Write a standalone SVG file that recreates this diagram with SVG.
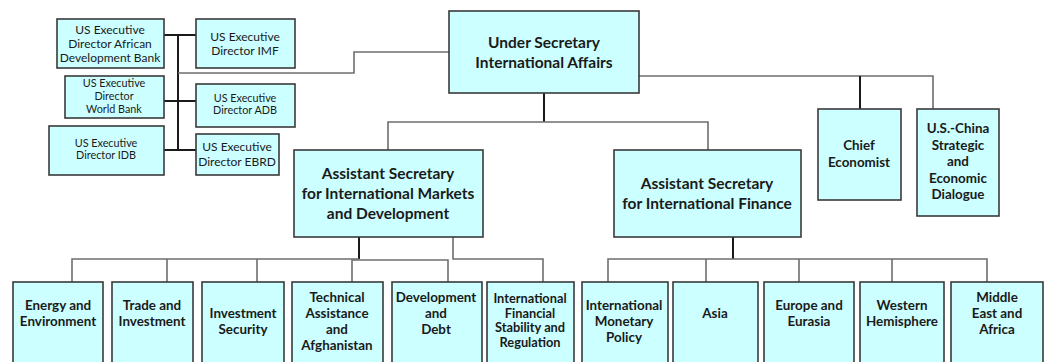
<svg xmlns="http://www.w3.org/2000/svg" width="1048" height="362" viewBox="0 0 1048 362">
  <style>
    .box { fill: #ccffff; stroke: #3a3a3a; stroke-width: 1.6; }
    .dark { fill: none; stroke: #1a1a1a; stroke-width: 2; }
    .grey { fill: none; stroke: #6e6e6e; stroke-width: 1.6; }
    text { font-family: Lato, "Open Sans", "Liberation Sans", sans-serif; fill: #1a1a1a; text-anchor: middle; }
    .b { font-weight: bold; }
    .big { font-size: 15.5px; }
    .mid { font-size: 13.4px; }
    .sm { font-size: 12px; }
    .fs { font-size: 12.8px; }
    .xs { font-size: 10.8px; }
  </style>
  <rect width="1048" height="362" fill="#ffffff"/>

  <!-- connectors -->
  <g id="connectors">
    <!-- executive director cluster -->
    <path class="dark" d="M178,35 V150"/>
    <path class="dark" d="M164,35 H196 M164,101 H196 M164,150 H196"/>
    <path class="grey" d="M178,73 H354 V52 H449"/>
    <!-- under secretary to right-hand offices -->
    <path class="grey" d="M639,76 H933 V109"/>
    <path class="dark" d="M860,76 V109"/>
    <!-- under secretary to assistant secretaries -->
    <path class="dark" d="M544,93 V122"/>
    <path class="grey" d="M388,150 V122 H708 V150"/>
    <!-- markets and development offices -->
    <path class="dark" d="M359,237 V259"/>
    <path class="grey" d="M72,282 V259 H359"/>
    <path class="grey" d="M167,259 V282 M257,259 V282"/>
    <path class="grey" d="M352,282 V260 H448 V282"/>
    <path class="grey" d="M453,237 V259 H543 V282"/>
    <!-- international finance offices -->
    <path class="dark" d="M733,237 V259"/>
    <path class="grey" d="M608,282 V259 H987 V282"/>
    <path class="grey" d="M706,259 V282 M799,259 V282 M892,259 V282"/>
  </g>

  <!-- executive directors -->
  <g id="ed-afdb">
    <rect class="box" x="57" y="19" width="107" height="49"/>
    <text class="sm" x="110" y="34">US Executive</text>
    <text class="sm" x="110" y="48">Director African</text>
    <text class="sm" x="110" y="62">Development Bank</text>
  </g>
  <g id="ed-imf">
    <rect class="box" x="196" y="19" width="99" height="49"/>
    <text class="sm" x="245" y="41">US Executive</text>
    <text class="sm" x="245" y="55">Director IMF</text>
  </g>
  <g id="ed-worldbank">
    <rect class="box" x="65" y="76" width="99" height="42"/>
    <text class="xs" x="114" y="87">US Executive</text>
    <text class="xs" x="114" y="100">Director</text>
    <text class="xs" x="114" y="113">World Bank</text>
  </g>
  <g id="ed-adb">
    <rect class="box" x="196" y="84" width="99" height="43"/>
    <text class="xs" x="245" y="102">US Executive</text>
    <text class="xs" x="245" y="114">Director ADB</text>
  </g>
  <g id="ed-idb">
    <rect class="box" x="49" y="126" width="115" height="49"/>
    <text class="xs" x="106" y="147">US Executive</text>
    <text class="xs" x="106" y="159">Director IDB</text>
  </g>
  <g id="ed-ebrd">
    <rect class="box" x="196" y="134" width="83" height="41"/>
    <text class="sm" x="237" y="151">US Executive</text>
    <text class="sm" x="237" y="166">Director EBRD</text>
  </g>

  <!-- leadership -->
  <g id="under-secretary">
    <rect class="box" x="449" y="11" width="190" height="82"/>
    <text class="b big" x="544" y="48">Under Secretary</text>
    <text class="b big" x="544" y="68">International Affairs</text>
  </g>
  <g id="chief-economist">
    <rect class="box" x="818" y="109" width="83" height="91"/>
    <text class="b mid" x="859" y="150">Chief</text>
    <text class="b mid" x="859" y="167">Economist</text>
  </g>
  <g id="us-china">
    <rect class="box" x="917" y="109" width="82" height="107"/>
    <text class="b mid" x="958" y="133">U.S.-China</text>
    <text class="b mid" x="958" y="150">Strategic</text>
    <text class="b mid" x="958" y="166">and</text>
    <text class="b mid" x="958" y="183">Economic</text>
    <text class="b mid" x="958" y="199">Dialogue</text>
  </g>
  <g id="as-markets">
    <rect class="box" x="294" y="150" width="189" height="87"/>
    <text class="b big" x="388" y="179">Assistant Secretary</text>
    <text class="b big" x="388" y="199">for International Markets</text>
    <text class="b big" x="388" y="219">and Development</text>
  </g>
  <g id="as-finance">
    <rect class="box" x="614" y="150" width="187" height="87"/>
    <text class="b big" x="707" y="189">Assistant Secretary</text>
    <text class="b big" x="707" y="209">for International Finance</text>
  </g>

  <!-- markets and development offices -->
  <g id="energy">
    <rect class="box" x="13" y="282" width="90" height="90"/>
    <text class="b mid" x="58" y="310">Energy and</text>
    <text class="b mid" x="58" y="326">Environment</text>
  </g>
  <g id="trade">
    <rect class="box" x="112" y="282" width="81" height="90"/>
    <text class="b mid" x="152" y="310">Trade and</text>
    <text class="b mid" x="152" y="326">Investment</text>
  </g>
  <g id="investment-security">
    <rect class="box" x="202" y="282" width="82" height="90"/>
    <text class="b mid" x="243" y="318">Investment</text>
    <text class="b mid" x="243" y="334">Security</text>
  </g>
  <g id="technical-assistance">
    <rect class="box" x="292" y="282" width="91" height="90"/>
    <text class="b mid" x="337" y="302">Technical</text>
    <text class="b mid" x="337" y="318">Assistance</text>
    <text class="b mid" x="337" y="334">and</text>
    <text class="b mid" x="337" y="350">Afghanistan</text>
  </g>
  <g id="development-debt">
    <rect class="box" x="392" y="282" width="90" height="90"/>
    <text class="b mid" x="436" y="302">Development</text>
    <text class="b mid" x="436" y="318">and</text>
    <text class="b mid" x="436" y="334">Debt</text>
  </g>
  <g id="financial-stability">
    <rect class="box" x="487" y="282" width="87" height="90"/>
    <text class="b fs" x="530" y="303">International</text>
    <text class="b fs" x="530" y="318">Financial</text>
    <text class="b fs" x="530" y="332">Stability and</text>
    <text class="b fs" x="530" y="347">Regulation</text>
  </g>

  <!-- international finance offices -->
  <g id="monetary-policy">
    <rect class="box" x="582" y="282" width="86" height="90"/>
    <text class="b mid" x="624" y="310">International</text>
    <text class="b mid" x="624" y="326">Monetary</text>
    <text class="b mid" x="624" y="342">Policy</text>
  </g>
  <g id="asia">
    <rect class="box" x="673" y="282" width="85" height="90"/>
    <text class="b mid" x="715" y="318">Asia</text>
  </g>
  <g id="europe-eurasia">
    <rect class="box" x="764" y="282" width="90" height="90"/>
    <text class="b mid" x="809" y="310">Europe and</text>
    <text class="b mid" x="809" y="326">Eurasia</text>
  </g>
  <g id="western-hemisphere">
    <rect class="box" x="860" y="282" width="84" height="90"/>
    <text class="b mid" x="902" y="310">Western</text>
    <text class="b mid" x="902" y="326">Hemisphere</text>
  </g>
  <g id="middle-east-africa">
    <rect class="box" x="951" y="282" width="92" height="90"/>
    <text class="b mid" x="997" y="302">Middle</text>
    <text class="b mid" x="997" y="318">East and</text>
    <text class="b mid" x="997" y="334">Africa</text>
  </g>
</svg>
